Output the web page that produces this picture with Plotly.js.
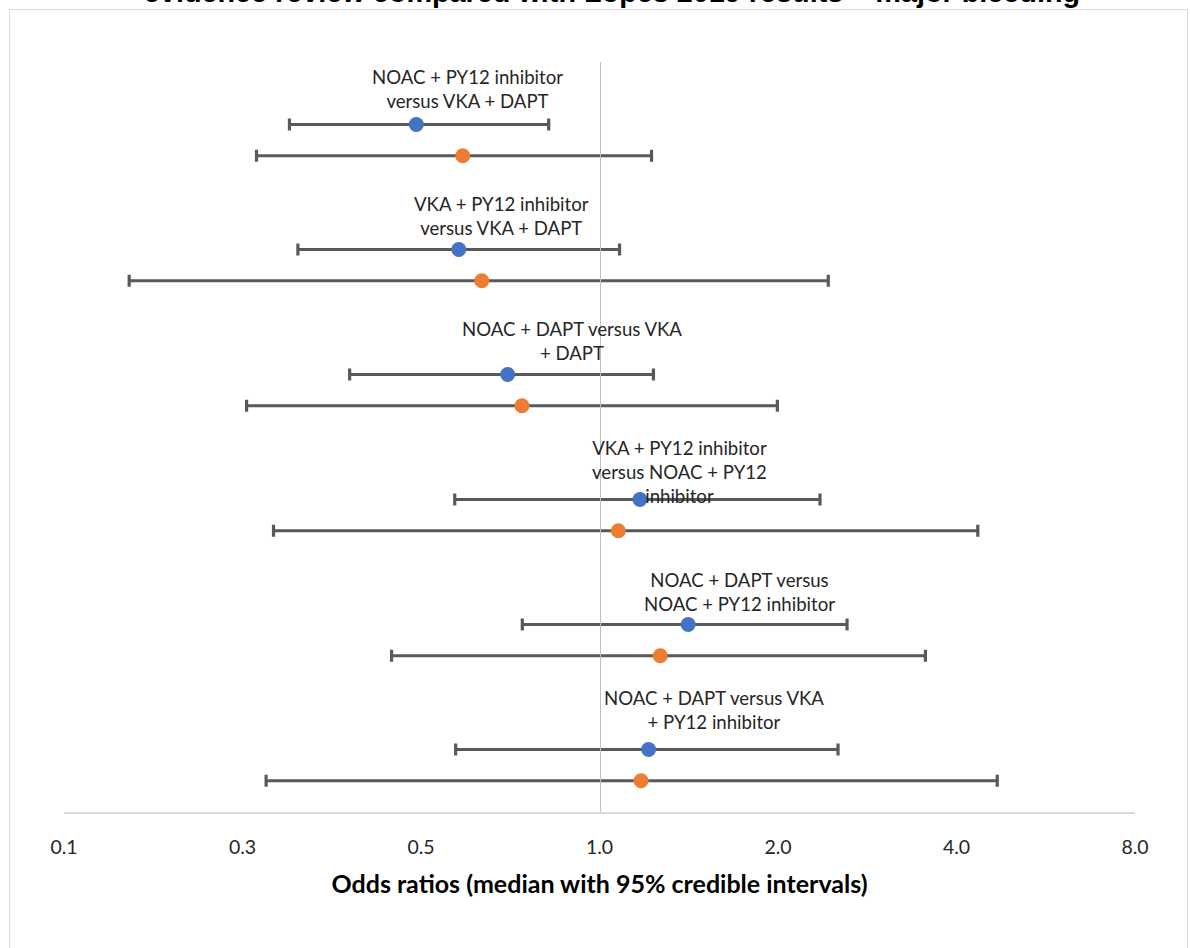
<!DOCTYPE html>
<html>
<head>
<meta charset="utf-8">
<script src="https://cdn.plot.ly/plotly-3.0.1.min.js"></script>
<style>html,body{margin:0;padding:0;background:#fff;}#chart{width:1190px;height:948px;}</style>
</head>
<body>
<div id="chart"></div>
<script>
// ---- data ----
const comparisons = [
  "NOAC + PY12 inhibitor<br>versus VKA + DAPT",
  "VKA + PY12 inhibitor<br>versus VKA + DAPT",
  "NOAC + DAPT versus VKA<br>+ DAPT",
  "VKA + PY12 inhibitor<br>versus NOAC + PY12<br>inhibitor",
  "NOAC + DAPT versus<br>NOAC + PY12 inhibitor",
  "NOAC + DAPT versus VKA<br>+ PY12 inhibitor"
];
// evidence review (blue)
const reviewMedian = [0.491, 0.579, 0.700, 1.170, 1.411, 1.210];
const reviewLower  = [0.300, 0.310, 0.379, 0.570, 0.741, 0.572];
const reviewUpper  = [0.821, 1.081, 1.233, 2.354, 2.615, 2.525];
// Lopes 2019 (orange)
const lopesMedian = [0.588, 0.633, 0.740, 1.076, 1.266, 1.175];
const lopesLower  = [0.264, 0.161, 0.254, 0.282, 0.446, 0.274];
const lopesUpper  = [1.224, 2.431, 1.995, 4.345, 3.545, 4.686];
const tickValues = [0.125, 0.25, 0.5, 1, 2, 4, 8];
const tickLabels = ["0.1", "0.3", "0.5", "1.0", "2.0", "4.0", "8.0"];

// ---- layout helpers ----
const n = comparisons.length;
const rowPos = comparisons.map((_, i) => n - i);      // group index from top
const yReview = rowPos.map(p => p - 0.5);
const yLopes  = rowPos.map(p => p - 0.75);

const W = 1190, H = 948;
const M = {l: 64, r: 55, t: 62, b: 136};
const pw = W - M.l - M.r, ph = H - M.t - M.b;
const xr = [Math.log10(tickValues[0]), Math.log10(tickValues[tickValues.length-1])];

const labelFont = {family: "Lato, 'Open Sans', sans-serif", size: 18.6, color: "#262626"};
const labelDX = [51, 43, 64, 40, 51, 65];
const labelDY = [11, 9, 9, -9, 8, 15];

function trace(med, lo, hi, ys, color, name) {
  return {
    type: "scatter", mode: "markers", name: name,
    x: med, y: ys,
    marker: {color: color, size: 15},
    error_x: {
      type: "data", symmetric: false,
      array: hi.map((h, i) => h - med[i]),
      arrayminus: med.map((m, i) => m - lo[i]),
      color: "#595959", thickness: 3.2, width: 6
    },
    hoverinfo: "x"
  };
}

const data = [
  trace(lopesMedian, lopesLower, lopesUpper, yLopes, "#ED7D31", "Lopes 2019"),
  trace(reviewMedian, reviewLower, reviewUpper, yReview, "#4472C4", "Evidence review")
];

const annotations = comparisons.map((t, i) => ({
  x: Math.log10(reviewMedian[i]), y: yReview[i], xref: "x", yref: "y",
  text: t, showarrow: false, xanchor: "center", yanchor: "bottom",
  xshift: labelDX[i], yshift: labelDY[i], font: labelFont, align: "center"
}));

const layout = {
  width: W, height: H,
  margin: M,
  paper_bgcolor: "#ffffff", plot_bgcolor: "#ffffff",
  showlegend: false,
  title: {
    text: "<b>evidence review compared with Lopes 2019 results \u2013 major bleeding</b>",
    font: {family: "'Liberation Sans', Arial, sans-serif", size: 28.8, color: "#000"},
    xref: "container", yref: "container", x: 612 / W, xanchor: "center",
    y: 1 - 2 / H, yanchor: "bottom"
  },
  xaxis: {
    type: "log", range: xr,
    tickvals: tickValues, ticktext: tickLabels,
    showgrid: false, zeroline: false,
    showline: true, linecolor: "#d9d9d9", linewidth: 2,
    ticks: "", ticklabelstandoff: 17,
    tickfont: {family: "Lato, sans-serif", size: 19.5, color: "#262626"},
    title: {
      text: "<b>Odds ratios (median with 95% credible intervals)</b>",
      font: {family: "Lato, sans-serif", size: 25, color: "#000"},
      standoff: 18
    }
  },
  yaxis: {
    range: [0, n], showticklabels: false, showgrid: false, zeroline: false,
    showline: true, linecolor: "#bfbfbf", linewidth: 1.5, ticks: "",
    anchor: "free", position: (0 - xr[0]) / (xr[1] - xr[0])
  },
  annotations: annotations,
  shapes: [{
    type: "rect", xref: "paper", yref: "paper", layer: "below",
    x0: (9.5 - M.l) / pw, x1: (1187.5 - M.l) / pw,
    y0: (H - M.b - (H + 5)) / ph, y1: (H - M.b - 9.5) / ph,
    line: {color: "#d9d9d9", width: 1}, fillcolor: "rgba(0,0,0,0)"
  }]
};

Plotly.newPlot("chart", data, layout, {displayModeBar: false, staticPlot: true});
</script>
</body>
</html>
